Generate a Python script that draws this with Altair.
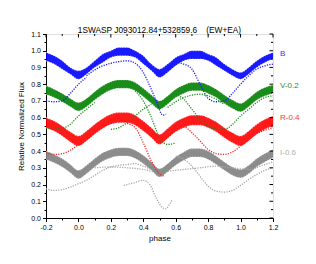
import altair as alt
import pandas as pd

# ---------------- data ----------------
PHASE = [-0.2, -0.15, -0.1, -0.05, 0.0, 0.05, 0.1, 0.15, 0.2, 0.25, 0.3, 0.35, 0.4, 0.45,
         0.5, 0.55, 0.6, 0.65, 0.7, 0.75, 0.8, 0.85, 0.9, 0.95, 1.0, 1.05, 1.1, 1.15, 1.2]

# dense main band of each series: upper / lower edge
B_HI = [0.99, 0.97, 0.94, 0.90, 0.88, 0.90, 0.94, 0.98, 1.00, 1.02, 1.02, 1.00, 0.97, 0.92,
        0.89, 0.92, 0.96, 0.98, 1.00, 1.00, 0.98, 0.96, 0.92, 0.89, 0.87, 0.90, 0.94, 0.97, 0.99]
B_LO = [0.94, 0.92, 0.89, 0.86, 0.83, 0.86, 0.90, 0.93, 0.96, 0.97, 0.97, 0.96, 0.92, 0.88,
        0.84, 0.87, 0.91, 0.94, 0.95, 0.95, 0.94, 0.91, 0.88, 0.85, 0.83, 0.86, 0.90, 0.93, 0.95]
V_HI = [0.79, 0.77, 0.745, 0.715, 0.69, 0.715, 0.755, 0.79, 0.815, 0.825, 0.825, 0.81, 0.775, 0.735,
        0.70, 0.73, 0.77, 0.795, 0.81, 0.81, 0.795, 0.77, 0.735, 0.705, 0.685, 0.715, 0.755, 0.78, 0.795]
V_LO = [0.74, 0.72, 0.695, 0.665, 0.64, 0.665, 0.705, 0.74, 0.765, 0.775, 0.775, 0.76, 0.725, 0.685,
        0.65, 0.68, 0.72, 0.745, 0.76, 0.76, 0.745, 0.72, 0.685, 0.655, 0.635, 0.665, 0.705, 0.73, 0.745]
R_HI = [0.60, 0.58, 0.55, 0.515, 0.49, 0.52, 0.56, 0.595, 0.62, 0.63, 0.63, 0.615, 0.58, 0.54,
        0.50, 0.535, 0.575, 0.60, 0.615, 0.615, 0.60, 0.575, 0.54, 0.51, 0.49, 0.52, 0.56, 0.59, 0.61]
R_LO = [0.54, 0.52, 0.49, 0.455, 0.43, 0.46, 0.50, 0.535, 0.56, 0.57, 0.57, 0.555, 0.52, 0.48,
        0.44, 0.475, 0.515, 0.54, 0.555, 0.555, 0.54, 0.515, 0.48, 0.45, 0.43, 0.46, 0.50, 0.53, 0.55]
I_HI = [0.40, 0.38, 0.355, 0.32, 0.285, 0.315, 0.355, 0.39, 0.41, 0.42, 0.42, 0.405, 0.375, 0.335,
        0.295, 0.325, 0.365, 0.395, 0.415, 0.415, 0.40, 0.37, 0.335, 0.305, 0.29, 0.315, 0.355, 0.385, 0.41]
I_LO = [0.35, 0.33, 0.305, 0.27, 0.235, 0.265, 0.305, 0.34, 0.36, 0.37, 0.37, 0.355, 0.325, 0.285,
        0.245, 0.275, 0.315, 0.345, 0.365, 0.365, 0.35, 0.32, 0.285, 0.255, 0.24, 0.265, 0.305, 0.335, 0.36]

# sparse secondary tracks (other nights), phase list / value list
B_TRACKS = [
    ([0.05, 0.1, 0.15, 0.2, 0.25, 0.3, 0.35, 0.4, 0.44, 0.48, 0.52, 0.54],
     [0.85, 0.885, 0.91, 0.925, 0.935, 0.94, 0.925, 0.87, 0.79, 0.70, 0.615, 0.62]),
    ([0.6, 0.65, 0.7, 0.75, 0.8, 0.85, 0.9, 0.95, 1.0, 1.05, 1.1, 1.15, 1.2],
     [0.93, 0.92, 0.89, 0.80, 0.715, 0.695, 0.70, 0.745, 0.80, 0.85, 0.89, 0.91, 0.92]),
    ([-0.2, -0.15, -0.1, -0.05, 0.0, 0.05],
     [0.70, 0.695, 0.70, 0.745, 0.80, 0.84]),
]
V_TRACKS = [
    ([0.2, 0.25, 0.3, 0.35, 0.4, 0.45],
     [0.53, 0.54, 0.57, 0.61, 0.65, 0.68]),
    ([0.35, 0.4, 0.45, 0.5, 0.55, 0.6],
     [0.76, 0.70, 0.60, 0.48, 0.44, 0.45]),
    ([0.6, 0.65, 0.7, 0.75, 0.8, 0.85, 0.9, 0.95, 1.0, 1.05, 1.1, 1.15, 1.2],
     [0.74, 0.71, 0.65, 0.59, 0.55, 0.535, 0.53, 0.56, 0.61, 0.65, 0.69, 0.72, 0.73]),
    ([-0.2, -0.15, -0.1, -0.05, 0.0, 0.05, 0.1],
     [0.54, 0.53, 0.535, 0.56, 0.61, 0.65, 0.69]),
    ([0.55, 0.6, 0.65, 0.7, 0.75, 0.8, 0.85, 0.9],
     [0.66, 0.695, 0.72, 0.735, 0.74, 0.73, 0.71, 0.68]),
]
R_TRACKS = [
    ([0.3, 0.35, 0.4, 0.45, 0.5, 0.53],
     [0.565, 0.54, 0.45, 0.34, 0.265, 0.25]),
    ([0.6, 0.65, 0.7, 0.75, 0.8, 0.85, 0.9, 0.95, 1.0, 1.05, 1.1, 1.15, 1.2],
     [0.54, 0.545, 0.51, 0.46, 0.41, 0.385, 0.38, 0.395, 0.43, 0.47, 0.505, 0.525, 0.54]),
    ([-0.2, -0.15, -0.1, -0.05, 0.0, 0.05],
     [0.39, 0.38, 0.385, 0.405, 0.44, 0.48]),
]
I_TRACKS = [
    ([-0.2, -0.15, -0.1, -0.05, 0.0, 0.05, 0.1, 0.15, 0.2, 0.25, 0.3, 0.35, 0.4, 0.45],
     [0.175, 0.165, 0.17, 0.185, 0.205, 0.225, 0.255, 0.285, 0.305, 0.315, 0.32, 0.325, 0.31, 0.29]),
    ([0.1, 0.2, 0.3, 0.4, 0.46],
     [0.30, 0.305, 0.30, 0.29, 0.277]),
    ([0.28, 0.34, 0.40, 0.44, 0.48, 0.52, 0.54, 0.56, 0.58],
     [0.195, 0.21, 0.225, 0.20, 0.12, 0.06, 0.055, 0.08, 0.11]),
    ([0.6, 0.65, 0.7, 0.75, 0.8, 0.85, 0.9, 0.95, 1.0, 1.05, 1.1, 1.15, 1.2],
     [0.37, 0.35, 0.31, 0.25, 0.19, 0.16, 0.155, 0.165, 0.195, 0.23, 0.26, 0.285, 0.30]),
    ([0.55, 0.65, 0.75, 0.85, 0.95, 1.05, 1.15, 1.2],
     [0.28, 0.29, 0.30, 0.31, 0.30, 0.29, 0.32, 0.335]),
]

SERIES = ["B", "V-0.2", "R-0.4", "I-0.6"]
LABEL_Y = [0.98, 0.79, 0.60, 0.39]
BAND_COLORS = ["#0000ff", "#008000", "#ff0000", "#808080"]
TRACK_COLORS = ["#1a1aff", "#1a8c1a", "#ff2020", "#a6a6a6"]
LABEL_COLORS = ["#3333ff", "#2a8f2a", "#ff3030", "#b0b0b0"]

X_MAJOR = [-0.2, 0.0, 0.2, 0.4, 0.6, 0.8, 1.0, 1.2]
X_MINOR = [-0.1, 0.1, 0.3, 0.5, 0.7, 0.9, 1.1]
Y_MAJOR = [0.0, 0.1, 0.2, 0.3, 0.4, 0.5, 0.6, 0.7, 0.8, 0.9, 1.0, 1.1]
Y_MINOR = [0.05, 0.15, 0.25, 0.35, 0.45, 0.55, 0.65, 0.75, 0.85, 0.95, 1.05]

TITLE = "1SWASP J093012.84+532859.6\u00a0\u00a0\u00a0\u00a0(EW+EA)"

# ---------------- tables ----------------
W, H = 227, 184
FONT = "Liberation Sans"

bands = []
for name, hi, lo, col in zip(SERIES, [B_HI, V_HI, R_HI, I_HI], [B_LO, V_LO, R_LO, I_LO], BAND_COLORS):
    for p, h, l in zip(PHASE, hi, lo):
        bands.append({"phase": p, "hi": h, "lo": l, "series": name, "c": col})
band_df = pd.DataFrame(bands)

tracks = []
for name, trs, col in zip(SERIES, [B_TRACKS, V_TRACKS, R_TRACKS, I_TRACKS], TRACK_COLORS):
    for k, (ps, vs) in enumerate(trs):
        for p, v in zip(ps, vs):
            tracks.append({"phase": p, "value": v, "track": f"{name}_{k}", "c": col})
track_df = pd.DataFrame(tracks)

lab_df = pd.DataFrame({"phase": [1.2] * 4, "value": LABEL_Y, "label": SERIES, "c": LABEL_COLORS})

xscale = alt.Scale(domain=[-0.2, 1.2], nice=False, zero=False)
yscale = alt.Scale(domain=[0.0, 1.1], nice=False, zero=False)

x_axis = alt.Axis(
    title="phase", values=X_MAJOR + X_MINOR, grid=False,
    labelExpr="abs(round(datum.value*10)) % 2 == 0 ? ((datum.value < -0.001 ? '-' : '') + format(abs(datum.value), '.1f')) : ''",
    tickSize={"condition": {"test": "abs(round(datum.value*10)) % 2 == 0", "value": 3.5}, "value": 2},
    domainColor="black", tickColor="black", labelColor="black", titleColor="black",
    labelFont=FONT, titleFont=FONT, labelFontSize=7, titleFontSize=8, titleFontWeight="normal",
    labelPadding=2, titlePadding=4, labelFlush=False,
)
y_axis = alt.Axis(
    title="Relative Normalized Flux", values=Y_MAJOR + Y_MINOR, grid=False,
    labelExpr="round(datum.value*100) % 10 == 0 ? format(datum.value, '.1f') : ''",
    tickSize={"condition": {"test": "round(datum.value*100) % 10 == 0", "value": 3.5}, "value": 2},
    domainColor="black", tickColor="black", labelColor="black", titleColor="black",
    labelFont=FONT, titleFont=FONT, labelFontSize=7, titleFontSize=8, titleFontWeight="normal",
    labelPadding=2, titlePadding=5, labelFlush=False,
)

X = alt.X("phase:Q", scale=xscale, axis=x_axis)

band = alt.Chart(band_df).mark_area(interpolate="monotone", opacity=0.9).encode(
    x=X,
    y=alt.Y("lo:Q", scale=yscale, axis=y_axis),
    y2="hi:Q",
    detail="series:N",
    color=alt.Color("c:N", scale=None),
)

# speckled look along the band edges
edge_hi = alt.Chart(band_df).mark_line(
    interpolate="monotone", strokeWidth=1.2, strokeDash=[1, 1.6], color="white", opacity=0.55
).encode(x=X, y=alt.Y("hi:Q", scale=yscale, axis=y_axis), detail="series:N")
edge_lo = alt.Chart(band_df).mark_line(
    interpolate="monotone", strokeWidth=1.2, strokeDash=[1, 1.6], color="white", opacity=0.55
).encode(x=X, y=alt.Y("lo:Q", scale=yscale, axis=y_axis), detail="series:N")

track = alt.Chart(track_df).mark_line(
    interpolate="monotone", strokeWidth=1.3, strokeDash=[1.2, 1.3]
).encode(
    x=X,
    y=alt.Y("value:Q", scale=yscale, axis=y_axis),
    detail="track:N",
    color=alt.Color("c:N", scale=None),
)

labels = alt.Chart(lab_df).mark_text(align="left", baseline="middle", dx=7, fontSize=8, font=FONT).encode(
    x=X,
    y=alt.Y("value:Q", scale=yscale, axis=y_axis),
    text="label:N",
    color=alt.Color("c:N", scale=None),
)

top_major = alt.Chart(pd.DataFrame({"phase": X_MAJOR})).mark_rule(color="black").encode(
    x=X, y=alt.value(0), y2=alt.value(3.5))
top_minor = alt.Chart(pd.DataFrame({"phase": X_MINOR})).mark_rule(color="black").encode(
    x=X, y=alt.value(0), y2=alt.value(2))
right_major = alt.Chart(pd.DataFrame({"value": Y_MAJOR})).mark_rule(color="black").encode(
    y=alt.Y("value:Q", scale=yscale, axis=y_axis), x=alt.value(W), x2=alt.value(W - 3.5))
right_minor = alt.Chart(pd.DataFrame({"value": Y_MINOR})).mark_rule(color="black").encode(
    y=alt.Y("value:Q", scale=yscale, axis=y_axis), x=alt.value(W), x2=alt.value(W - 2))

chart = alt.layer(
    band, edge_hi, edge_lo, track, labels, top_major, top_minor, right_major, right_minor
).properties(
    width=W, height=H,
    title=alt.TitleParams(TITLE, fontSize=8.3, fontWeight="normal", font=FONT, color="black",
                          anchor="middle", offset=5, dy=9),
    autosize=alt.AutoSizeParams(type="none"),
    padding={"left": 38, "top": 26, "right": 35, "bottom": 36},
).configure_view(stroke="black", strokeWidth=1).configure(background="white")

chart.save("out.html", embed_options={"renderer": "svg", "actions": False})
